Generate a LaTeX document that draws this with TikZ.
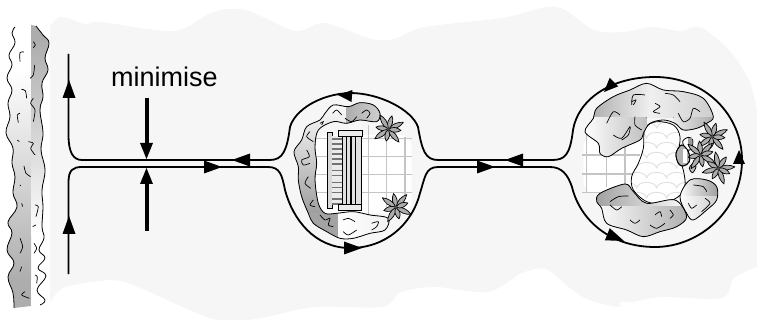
\documentclass[tikz,border=0pt]{standalone}
\usepackage{fontspec}
\setmainfont{Liberation Sans}
\definecolor{bgblob}{HTML}{F6F6F6}
\definecolor{gridgray}{HTML}{C4C4C4}
\newcommand\ahead[3]{\fill[black,shift={(#1,#2)},rotate=#3] (0,0)--(-18,-6.5)--(-18,6.5)--cycle;}
\newcommand\aheadS[3]{\fill[black,shift={(#1,#2)},rotate=#3] (0,0)--(-14,-6)--(-14,6)--cycle;}
\newcommand\wallL[1]{\path[#1] plot[smooth,tension=.7] coordinates {(15,27)(12,33)(15,43)(9,55)(12,65)(7,78)(12,90)(8,103)(10,117)(6,133)(13,148)(12,163)(15,177)(13,193)(17,207)(8,222)(12,233)(7,250)(14,263)(8,277)(13,293)(14,308)};}
\newcommand\wallR[1]{\path[#1] plot[smooth,tension=.7] coordinates {(36,26)(43,35)(49,43)(45,58)(48,70)(42,83)(43,97)(40,110)(43,133)(41,150)(45,170)(42,190)(43,207)(42,227)(44,238)(39,250)(45,258)(38,268)(46,276)(37,290)(45,300)(40,305)};}
\newcommand\shrubOne[1]{\path[#1] plot[smooth cycle,tension=.55] coordinates {(320,155)(330,130)(310,105)(270,98)(235,110)(190,105)(165,130)(150,150)(110,170)(95,210)(72,245)(85,290)(85,330)(95,380)(115,430)(130,460)(170,485)(210,505)(250,505)(300,490)(345,480)(355,445)(300,435)(250,425)(200,430)(165,430)(145,400)(135,330)(140,280)(135,230)(145,180)(190,155)(230,160)(270,150)};}
\newcommand\shrubTwo[1]{\path[#1] plot[smooth cycle,tension=.55] coordinates {(105,215)(130,175)(140,145)(190,110)(240,90)(290,70)(340,90)(400,95)(460,115)(490,170)(470,190)(440,205)(400,210)(375,190)(340,180)(300,190)(280,220)(270,240)(215,265)(175,290)(150,280)(145,250)};}
\newcommand\shrubThree[1]{\path[#1] plot[smooth cycle,tension=.55] coordinates {(140,425)(150,400)(225,372)(250,395)(290,430)(375,420)(410,470)(380,500)(330,515)(280,530)(230,510)(170,490)(155,445)};}
\newcommand\shrubFour[1]{\path[#1] plot[smooth cycle,tension=.55] coordinates {(390,410)(420,360)(470,360)(500,380)(500,420)(470,450)(430,480)(410,460)};}
\newcommand\pondShape[1]{\path[#1] plot[smooth cycle,tension=.55] coordinates {(285,205)(320,185)(370,195)(390,230)(385,290)(400,330)(405,380)(385,410)(340,430)(290,425)(250,390)(245,350)(265,310)(280,265)};}
\tikzset{
  flow/.style={draw=black,line width=1.8pt,line join=round},
  thickbar/.style={draw=black,line width=4pt},
  outline/.style={draw=black,line width=.8pt},
  squig/.style={draw=black,line width=.7pt},
  gridline/.style={draw=gridgray,line width=1.3pt},
  petal/.style={draw=black,fill=gray!65,line width=.7pt,line join=round},
  plantstar/.pic={
    \foreach \a/\l in {15/50,65/42,110/50,160/38,205/50,250/36,300/50,345/38}{
      \path[petal,rotate=\a] (0,0) .. controls ({\l*.35},11) and ({\l*.7},8) .. (\l,0)
         .. controls ({\l*.7},-8) and ({\l*.35},-11) .. (0,0) -- cycle;
    }
    \fill[black!70] (0,0) circle (5);
  }
}
\begin{document}
\begin{tikzpicture}[x=1pt,y=-1pt]
\useasboundingbox (0,0) rectangle (757,320);
% background blob
\fill[bgblob] plot[smooth,tension=.5] coordinates {(46,32)(60,17)(85,24)(101,22)(174,31)(213,12)(246,10)(295,31)(324,23)(372,39)(394,39)(425,27)(502,18)(546,7)(565,10)(594,30)(623,32)(652,27)(681,31)(700,27)(729,50)(749,80)(757,110)}
  -- (757,267) -- plot[smooth,tension=.5] coordinates {(757,267)(734,278)(722,298)(662,297)(633,302)(621,302)(618,307)(589,300)(570,288)(546,269)(522,273)(488,292)(435,287)(401,292)(382,307)(314,307)(256,319)(213,319)(145,290)(121,281)(99,281)(63,288)(48,305)} -- cycle;
% wall
\fill[white] (31,25) rectangle (50,308);
\begin{scope}
  \path[clip] plot[smooth,tension=.7] coordinates {(15,27)(12,33)(15,43)(9,55)(12,65)(7,78)(12,90)(8,103)(10,117)(6,133)(13,148)(12,163)(15,177)(13,193)(17,207)(8,222)(12,233)(7,250)(14,263)(8,277)(13,293)(14,308)} -- (31,306) -- (31,25) -- cycle;
  \fill[top color=white,bottom color=black!32] (0,70) rectangle (31,280);
  \fill[black!32] (0,280) rectangle (31,310);
\end{scope}
\begin{scope}
  \path[clip] plot[smooth,tension=.7] coordinates {(36,26)(43,35)(49,43)(45,58)(48,70)(42,83)(43,97)(40,110)(43,133)(41,150)(45,170)(42,190)(43,207)(42,227)(44,238)(39,250)(45,258)(38,268)(46,276)(37,290)(45,300)(40,305)} -- (31,306) -- (31,25) -- cycle;
  \fill[top color=black!32,bottom color=white] (31,40) rectangle (52,235);
  \fill[black!32] (31,20) rectangle (52,40);
\end{scope}
\wallL{draw=black,line width=.8pt}
\wallR{draw=black,line width=.8pt}
\begin{scope}[x=.3333pt,y=-.3333pt]
  \foreach \p in {
    {(60,185)(60,158)(72,156)},
    {(100,125)(106,135)(100,143)},
    {(104,195)(100,225)(90,235)},
    {(64,268)(76,272)(80,295)},
    {(100,295)(92,310)(105,330)(100,365)},
    {(60,340)(52,345)(55,368)},
    {(52,420)(58,425)},
    {(85,425)(100,430)(92,445)(105,465)},
    {(72,498)(78,520)(92,530)},
    {(60,555)(62,558)},
    {(65,610)(68,620)},
    {(105,615)(115,620)(108,650)},
    {(98,680)(108,675)},
    {(60,715)(68,740)(60,760)},
    {(102,730)(110,745)(102,760)},
    {(65,800)(60,815)},
    {(105,825)(112,830)(110,850)},
    {(75,875)(65,885)(88,895)}}{
    \path[squig] plot[smooth] coordinates {\p};
  }
\end{scope}
% label and squeeze arrows
\node[font=\fontsize{27}{30}\selectfont,inner sep=0pt,anchor=base] (lbl) at (164.5,87) {minimise};
\coordinate (topbar) at (146.5,98);
\coordinate (topbase) at (146.5,144);
\coordinate (botbar) at (146.5,231);
\coordinate (botbase) at (146.5,182);
\draw[thickbar] (topbar) -- (topbase);
\draw[thickbar] (botbar) -- (botbase);
\fill (146.5,159) -- (140,143) -- (153,143) -- cycle;
\fill (146.5,168) -- (140,184) -- (153,184) -- cycle;
% upper flow line
\draw[flow] (68.5,54) -- (68.5,135) .. controls (68.5,152) and (73,160) .. (82,160) -- (270,160)
  .. controls (283,160) and (287,150) .. (290,127)
  .. controls (295,110) and (320,94) .. (350,93)
  .. controls (380,93) and (412,110) .. (418,127)
  .. controls (422,150) and (425,160) .. (438,160) -- (552,160)
  .. controls (565,160) and (570,155) .. (573,130)
  .. controls (578,100) and (610,77) .. (655,77)
  .. controls (705,77) and (742,115) .. (742,160)
  .. controls (742,210) and (700,247) .. (655,247)
  .. controls (610,247) and (580,220) .. (572,187)
  .. controls (568,175) and (562,167) .. (550,167) -- (438,167)
  .. controls (425,167) and (425,178) .. (420,193)
  .. controls (412,225) and (385,248) .. (350,248)
  .. controls (315,248) and (293,220) .. (285,190)
  .. controls (282,175) and (280,167) .. (268,167) -- (82,167)
  .. controls (73,167) and (68.5,170) .. (68.5,182) -- (68.5,274);
\ahead{69}{80}{90}
\ahead{69}{216}{90}
\ahead{222}{167}{0}
\ahead{232}{160}{180}
\aheadS{338}{95}{176}
\ahead{362}{248}{0}
\ahead{495}{167}{0}
\ahead{505}{160}{180}
\aheadS{604}{92}{225}
\aheadS{739}{150}{90}
\ahead{624}{241}{-22}
% garden one
\begin{scope}[shift={(270,70)},x=.3333pt,y=-.3333pt]
  \fill[white,rounded corners=12pt] (135,195) rectangle (425,430);
  \foreach \v/\a/\b in {295/165/435,350/195/415,405/200/385} \draw[gridline] (\v,\a) -- (\v,\b);
  \foreach \h in {205,260,313,368} \draw[gridline] (135,\h) -- (425,\h);
  \begin{scope}
    \shrubOne{clip}
    \fill[top color=white,bottom color=black!38] (50,90) rectangle (230,430);
    \fill[left color=black!32,right color=black!15] (230,80) rectangle (360,200);
    \fill[black!36] (50,430) rectangle (205,520);
    \fill[left color=white,right color=black!6] (205,420) rectangle (370,520);
  \end{scope}
  \shrubOne{outline}
  \foreach \p in {
    {(188,130)(200,120)(215,135)},
    {(150,160)(160,155)(155,165)},
    {(225,145)(245,155)(260,140)},
    {(275,130)(290,120)(300,130)(290,145)},
    {(120,185)(110,200)(130,215)},
    {(110,240)(118,260)(95,270)(100,285)(120,280)},
    {(115,320)(105,340)(122,355)},
    {(130,390)(120,405)(135,410)},
    {(150,435)(165,450)(180,445)(175,465)(190,470)},
    {(220,450)(235,445)(255,455)},
    {(220,485)(235,495)(260,480)},
    {(305,460)(325,455)(320,470)(305,480)}}{
    \path[squig] plot[smooth] coordinates {\p};
  }
  % bench
  \path[draw=black,fill=black!15,line width=.9pt] (172,187) rectangle (187,415);
  \fill[black!8] (187,199) rectangle (216,404);
  \foreach \s in {205,220,235,250,265,280,300,315,335,350,365,385,400}
    \fill[black!55] (187,\s) rectangle (216,{\s+4});
  \path[draw=black,fill=black!12,line width=.9pt] (216,195) rectangle (273,410);
  \foreach \c in {229,243,257} \draw[black,line width=1.1pt] (\c,195) -- (\c,410);
  \path[draw=black,fill=black!8,line width=.9pt] (205,181) rectangle (277,199);
  \path[draw=black,fill=black!8,line width=.9pt] (204,404) rectangle (275,422);
  \pic[rotate=10] at (355,178) {plantstar};
  \pic[rotate=35] at (378,412) {plantstar};
\end{scope}
% garden two
\begin{scope}[shift={(550,60)},x=.3333pt,y=-.3333pt]
  \fill[white,rounded corners=12pt] (100,225) rectangle (300,400);
  \foreach \v/\a/\b in {110/225/400,170/225/380,225/225/380} \draw[gridline] (\v,\a) -- (\v,\b);
  \foreach \h/\r in {285/270,342/260,398/150} \draw[gridline] (97,\h) -- (\r,\h);
  \pondShape{fill=white}
  \begin{scope}
    \pondShape{clip}
    \foreach \row/\off in {205/0,235/30,265/0,295/30,325/0,355/30,385/0,415/30}
      \foreach \k in {0,1,2,3,4,5,6}
        \draw[black!12,line width=.9pt] ({200+\off+\k*60},\row) arc[start angle=180,end angle=360,x radius=30,y radius=18];
  \end{scope}
  \pondShape{outline}
  \begin{scope}
    \shrubTwo{clip}
    \fill[left color=black!35,right color=black!20,middle color=black!6] (100,60) rectangle (500,172);
    \fill[left color=white,right color=black!25] (100,172) rectangle (290,300);
    \fill[left color=black!8,right color=black!35] (370,172) rectangle (500,215);
  \end{scope}
  \shrubTwo{outline}
  \begin{scope}
    \shrubThree{clip}
    \fill[left color=black!38,right color=white] (130,365) rectangle (420,440);
    \fill[left color=white,right color=black!32] (130,440) rectangle (420,535);
  \end{scope}
  \shrubThree{outline}
  \begin{scope}
    \shrubFour{clip}
    \fill[left color=white,right color=black!38] (385,350) rectangle (505,410);
    \fill[left color=white,right color=black!20] (385,410) rectangle (505,485);
  \end{scope}
  \shrubFour{outline}
  \foreach \p in {
    {(245,135)(250,105)(285,105)},
    {(245,125)(258,120)(250,135)},
    {(170,190)(190,155)(210,165)},
    {(190,225)(215,235)(240,200)(235,225)(215,240)},
    {(255,170)(255,195)(275,210)},
    {(315,130)(330,140)(310,155)(330,160)},
    {(345,100)(370,105)(390,125)},
    {(385,160)(400,185)(420,175)(430,145)(450,155)},
    {(180,425)(205,410)(235,408)},
    {(180,435)(200,450)(215,440)},
    {(240,480)(255,490)(270,480)},
    {(315,465)(330,455)(335,470)},
    {(360,450)(370,465)(360,475)},
    {(300,495)(320,505)(345,490)},
    {(430,375)(460,380)(470,395)},
    {(415,430)(425,445)(440,435)},
    {(465,415)(480,430)(455,455)}}{
    \path[squig] plot[smooth] coordinates {\p};
  }
  % rocks
  \path[outline,fill=white] plot[smooth cycle,tension=.6] coordinates {(398,245)(415,232)(428,240)(425,265)(410,270)};
  \fill[black!40] (415,235) rectangle (425,260);
  \path[outline,fill=black!30] plot[smooth cycle,tension=.6] coordinates {(378,280)(395,255)(415,275)(418,305)(400,318)(385,310)};
  \fill[white] (398,268) rectangle (412,308);
  \path[outline] plot[smooth cycle,tension=.6] coordinates {(378,280)(395,255)(415,275)(418,305)(400,318)(385,310)};
  \path[outline,fill=black!25] plot[smooth cycle,tension=.6] coordinates {(418,325)(430,310)(438,320)(428,338)};
  \pic[rotate=10] at (487,230) {plantstar};
  \pic[rotate=30] at (452,285) {plantstar};
  \pic[rotate=-10] at (505,325) {plantstar};
\end{scope}
\end{tikzpicture}
\end{document}
